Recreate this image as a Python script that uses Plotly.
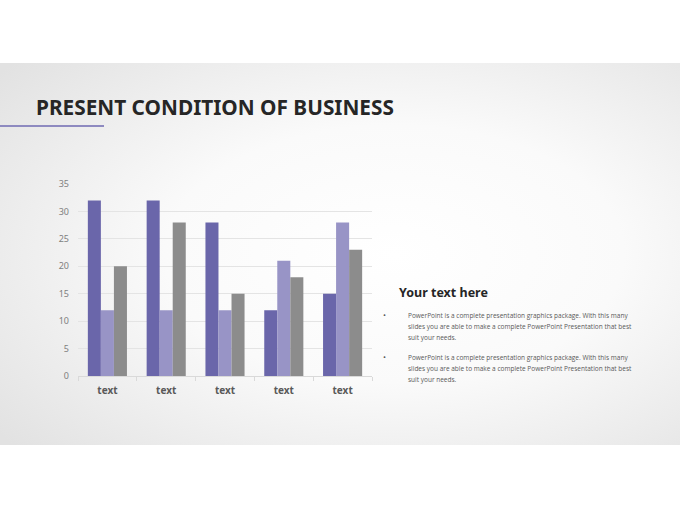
import base64
import plotly.graph_objects as go

categories = ["c1", "c2", "c3", "c4", "c5"]
cat_labels = ["text", "text", "text", "text", "text"]
series1 = [32, 32, 28, 12, 15]
series2 = [12, 12, 12, 21, 28]
series3 = [20, 28, 15, 18, 23]
y_ticks = [0, 5, 10, 15, 20, 25, 30, 35]
title = "PRESENT CONDITION OF BUSINESS"
subtitle = "Your text here"
para_lines = [
    "PowerPoint is a complete presentation graphics package. With this many",
    "slides you are able to make a complete PowerPoint Presentation that best",
    "suit your needs.",
]

W, H = 680, 510
colors = ["#6A66AA", "#9894C6", "#8C8C8C"]

fig = go.Figure()
for name, vals, c in zip(["Series 1", "Series 2", "Series 3"], [series1, series2, series3], colors):
    fig.add_trace(go.Bar(x=categories, y=vals, name=name, marker=dict(color=c, line=dict(width=0))))

svg = f'''<svg xmlns="http://www.w3.org/2000/svg" width="{W}" height="382" viewBox="0 0 {W} 382" preserveAspectRatio="none">
<defs><radialGradient id="g" cx="0.58" cy="0.5" r="0.75" fx="0.58" fy="0.5">
<stop offset="0" stop-color="#ffffff"/><stop offset="0.45" stop-color="#fafafa"/><stop offset="1" stop-color="#e2e2e2"/></radialGradient></defs>
<rect width="{W}" height="382" fill="url(#g)"/></svg>'''
src = "data:image/svg+xml;base64," + base64.b64encode(svg.encode()).decode()


def py(p):
    return 1 - p / H


def px(p):
    return p / W


fig.add_layout_image(dict(source=src, xref="paper", yref="paper", x=0, y=py(63), sizex=1, sizey=(445 - 63) / H,
                          xanchor="left", yanchor="top", sizing="stretch", layer="below"))

fig.add_shape(type="line", xref="paper", yref="paper", x0=0, x1=px(104), y0=py(126), y1=py(126),
              line=dict(color="#8E8AC0", width=2))

fig.add_annotation(text=f"<b>{title}</b>", xref="paper", yref="paper",
                   x=px(34), y=py(107), xanchor="left", yanchor="middle", showarrow=False,
                   font=dict(family="Noto Sans", size=20.8, color="#262626"))
fig.add_annotation(text=f"<b>{subtitle}</b>", xref="paper", yref="paper",
                   x=px(397), y=py(292), xanchor="left", yanchor="middle", showarrow=False,
                   font=dict(family="Noto Sans", size=12.5, color="#262626"))

for y0 in [315, 357]:
    fig.add_annotation(text="•", xref="paper", yref="paper", x=px(381), y=py(y0 - 0.5), xanchor="left",
                       yanchor="middle", showarrow=False, font=dict(family="Open Sans", size=8, color="#595959"))
    for i, line in enumerate(para_lines):
        fig.add_annotation(text=line, xref="paper", yref="paper", x=px(406), y=py(y0 + 11.2 * i),
                           xanchor="left", yanchor="middle", align="left", showarrow=False,
                           font=dict(family="Open Sans", size=6.5, color="#595959"))

fig.update_layout(
    width=W, height=H, margin=dict(l=0, r=0, t=0, b=0, autoexpand=False),
    paper_bgcolor="#ffffff", plot_bgcolor="rgba(0,0,0,0)",
    barmode="group", bargap=0.335, bargroupgap=0,
    showlegend=False,
    xaxis=dict(domain=[px(78), px(372)], tickvals=categories, ticktext=[f"<b>{t}</b>" for t in cat_labels],
               showgrid=False, showline=True, linecolor="#D9D9D9", linewidth=1, automargin=False,
               ticks="outside", tickson="boundaries", ticklen=4, tickcolor="#D9D9D9", ticklabelstandoff=5,
               tickfont=dict(family="Noto Sans", size=10, color="#595959"), fixedrange=True),
    yaxis=dict(domain=[py(376), py(184)], range=[0, 35], tickvals=y_ticks, automargin=False,
               showgrid=True, gridcolor="#E4E4E4", gridwidth=1, zeroline=False,
               showline=False, ticks="", ticklabelstandoff=8,
               tickfont=dict(family="Noto Sans", size=9, color="#7F7F7F")),
)

post = (
    "var gd=document.getElementById('{plot_id}');"
    "document.documentElement.style.margin='0';document.documentElement.style.overflow='hidden';"
    "document.body.style.margin='0';document.body.style.overflow='hidden';"
    "gd.style.position='absolute';gd.style.top='0';gd.style.left='0';"
)
fig.write_html("out.html", config={"displayModeBar": False}, post_script=post)
